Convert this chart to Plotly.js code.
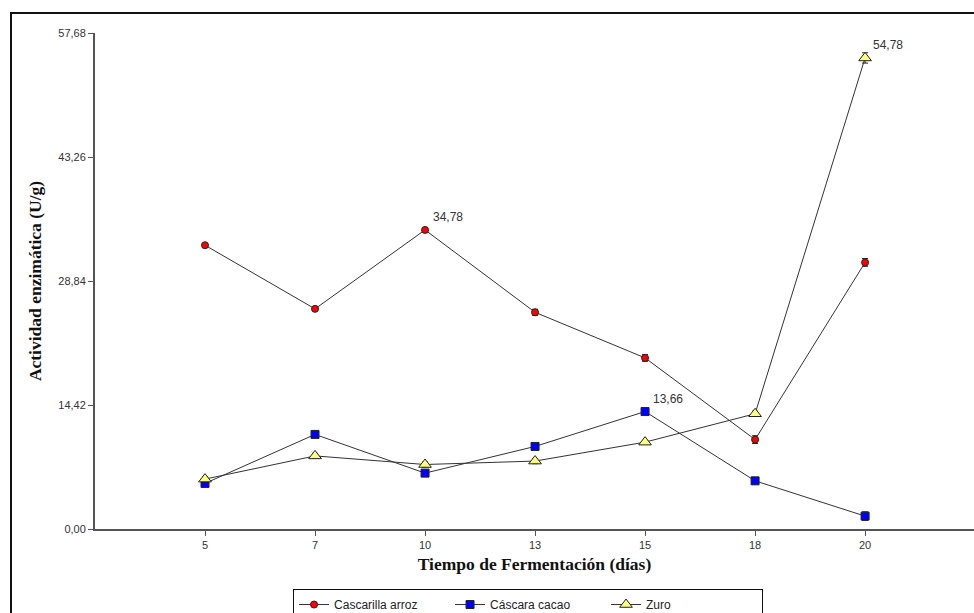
<!DOCTYPE html>
<html>
<head>
<meta charset="utf-8">
<script src="https://cdn.plot.ly/plotly-3.0.1.min.js"></script>
<style>
html,body{margin:0;padding:0;background:#fff;overflow:hidden;}
#chart{width:974px;height:613px;}
</style>
</head>
<body>
<div id="chart"></div>
<script>
var dias = ["5", "7", "10", "13", "15", "18", "20"];
var cascarilla = [33.0, 25.6, 34.78, 25.2, 19.9, 10.4, 31.0];
var cascarillaErr = [0.2, 0.2, 0.2, 0.35, 0.4, 0.45, 0.45];
var cascara = [5.3, 11.0, 6.5, 9.6, 13.66, 5.6, 1.5];
var cascaraErr = [0.2, 0.2, 0.2, 0.2, 0.2, 0.2, 0.5];
var zuro = [5.8, 8.5, 7.5, 7.9, 10.1, 13.4, 54.78];
var zuroErr = [0.3, 0.3, 0.3, 0.3, 0.2, 0.3, 0.6];
var yTicks = [0, 14.42, 28.84, 43.26, 57.68];
var yTickText = ["0,00", "14,42", "28,84", "43,26", "57,68"];
var labelled = [
  {idx: 2, values: cascarilla},
  {idx: 4, values: cascara},
  {idx: 6, values: zuro}
];

function fmt(v){ return v.toFixed(2).replace(".", ","); }

var lineStyle = {color: "#333", width: 1};
var traces = [
  {x: dias, y: cascarilla, name: "Cascarilla arroz", type: "scatter", mode: "lines+markers",
   line: lineStyle, cliponaxis: false,
   marker: {symbol: "circle", size: 7, color: "#ff0000", line: {color: "#222", width: 1}},
   error_y: {type: "data", array: cascarillaErr, color: "#222", thickness: 1, width: 3}},
  {x: dias, y: cascara, name: "Cáscara cacao", type: "scatter", mode: "lines+markers",
   line: lineStyle, cliponaxis: false,
   marker: {symbol: "square", size: 8, color: "#0000ff", line: {color: "#222", width: 1}},
   error_y: {type: "data", array: cascaraErr, color: "#222", thickness: 1, width: 3}},
  {x: dias, y: zuro, name: "Zuro", type: "scatter", mode: "lines+markers",
   line: lineStyle, cliponaxis: false,
   marker: {symbol: "triangle-up", size: 11, color: "#ffff80", line: {color: "#222", width: 1}},
   error_y: {type: "data", array: zuroErr, color: "#222", thickness: 1, width: 3}}
];

var annotations = labelled.map(function(l){
  return {x: l.idx, y: l.values[l.idx], xref: "x", yref: "y", text: fmt(l.values[l.idx]),
    showarrow: false, xanchor: "left", yanchor: "bottom", xshift: 6, yshift: 4,
    font: {family: "Liberation Sans, Arial, sans-serif", size: 12, color: "#333"}};
});

var layout = {
  width: 974, height: 613,
  margin: {l: 95, r: 0, t: 33, b: 84, pad: 0, autoexpand: false},
  paper_bgcolor: "#fff", plot_bgcolor: "#fff",
  showlegend: true,
  font: {family: "Liberation Sans, Arial, sans-serif", size: 11, color: "#333"},
  xaxis: {
    type: "category", categoryorder: "array", categoryarray: dias,
    range: [-1, 6.99], showgrid: false, zeroline: false,
    showline: true, linecolor: "#555", linewidth: 2,
    ticks: "outside", ticklen: 5, tickcolor: "#555", tickwidth: 1,
    tickfont: {size: 11, color: "#333"},
    title: {text: "Tiempo de Fermentación (días)", standoff: 8,
      font: {family: "Liberation Serif, Times New Roman, serif", size: 17.5, color: "#111", weight: "bold"}}
  },
  yaxis: {
    range: [0, 57.68], tickvals: yTicks, ticktext: yTickText,
    showgrid: false, zeroline: false,
    showline: true, linecolor: "#555", linewidth: 2,
    ticks: "outside", ticklen: 5, tickcolor: "#555", tickwidth: 1,
    tickfont: {size: 11, color: "#333"},
    title: {text: "Actividad enzimática (U/g)", standoff: 12,
      font: {family: "Liberation Serif, Times New Roman, serif", size: 17.5, color: "#111", weight: "bold"}}
  },
  legend: {
    orientation: "h", x: 0.2253, y: -0.121, xanchor: "left", yanchor: "top",
    bordercolor: "#111", borderwidth: 1, bgcolor: "#fff",
    entrywidth: 111, entrywidthmode: "pixels",
    font: {family: "Liberation Sans, Arial, sans-serif", size: 12, color: "#222"}
  },
  shapes: [
    {type: "rect", xref: "paper", yref: "paper",
     x0: (11 - 95) / 879, x1: 1.05, y0: -0.3, y1: (529 - 13) / 496,
     line: {color: "#111", width: 2}, fillcolor: "rgba(0,0,0,0)", layer: "below"}
  ],
  annotations: annotations
};

Plotly.newPlot("chart", traces, layout, {displayModeBar: false, staticPlot: true});
</script>
</body>
</html>
